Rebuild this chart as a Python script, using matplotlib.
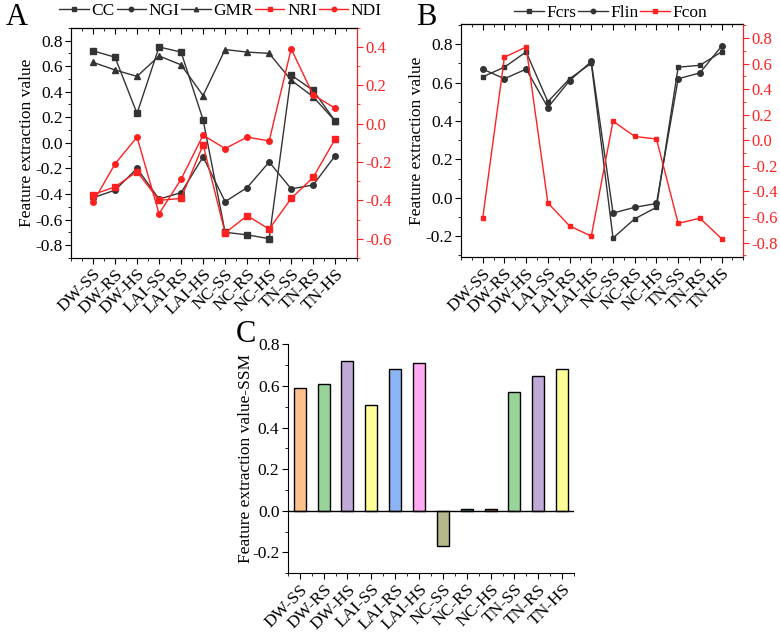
import matplotlib.pyplot as plt
import numpy as np
from matplotlib.ticker import MultipleLocator

plt.rcParams['font.family'] = ['Liberation Serif', 'DejaVu Serif']
plt.rcParams['axes.unicode_minus'] = False

# categories shared by all three panels
cats = ['DW-SS', 'DW-RS', 'DW-HS', 'LAI-SS', 'LAI-RS', 'LAI-HS',
        'NC-SS', 'NC-RS', 'NC-HS', 'TN-SS', 'TN-RS', 'TN-HS']

# Panel A, left axis
cc = [0.72, 0.67, 0.23, 0.75, 0.71, 0.18, -0.70, -0.72, -0.75, 0.53, 0.41, 0.17]
ngi = [-0.43, -0.37, -0.20, -0.44, -0.39, -0.11, -0.46, -0.35, -0.15, -0.36, -0.33, -0.10]
gmr = [0.63, 0.57, 0.52, 0.68, 0.61, 0.37, 0.73, 0.71, 0.70, 0.49, 0.36, 0.17]
# Panel A, right axis
nri = [-0.37, -0.33, -0.25, -0.40, -0.39, -0.11, -0.57, -0.48, -0.55, -0.39, -0.28, -0.08]
ndi = [-0.41, -0.21, -0.07, -0.47, -0.29, -0.06, -0.13, -0.07, -0.09, 0.39, 0.15, 0.08]

# Panel B
fcrs = [0.63, 0.68, 0.76, 0.50, 0.62, 0.70, -0.21, -0.11, -0.05, 0.68, 0.69, 0.76]
flin = [0.67, 0.62, 0.67, 0.47, 0.61, 0.71, -0.08, -0.05, -0.03, 0.62, 0.65, 0.79]
fcon = [-0.61, 0.65, 0.73, -0.49, -0.67, -0.75, 0.15, 0.03, 0.01, -0.65, -0.61, -0.77]

# Panel C
ssm = [0.59, 0.61, 0.72, 0.51, 0.68, 0.71, -0.17, 0.008, 0.008, 0.57, 0.65, 0.68]
bar_colors = ['#FFC08C', '#98D498', '#BFA9D6', '#FFFF99', '#8DB4F2', '#FFAAF2',
              '#B5B88A', '#4E8A9A', '#B06A3A', '#98D498', '#BFA9D6', '#FFFF99']

BLK = '#333333'
RED = '#FF2020'
FS = 12.5

x = np.arange(len(cats))
fig = plt.figure(figsize=(7.8, 6.32), dpi=100)


def style_line_axes(ax, ax2):
    ax.set_xlim(-1, 12)
    ax.set_xticks(x)
    ax.set_xticklabels(cats, rotation=45, ha='right', rotation_mode='anchor', fontsize=FS)
    ax.xaxis.set_minor_locator(MultipleLocator(0.5))
    ax.tick_params(axis='x', which='major', length=4, pad=2)
    ax.tick_params(axis='x', which='minor', length=2.5)
    ax.tick_params(axis='y', which='major', length=4, labelsize=FS, pad=2)
    ax.tick_params(axis='y', which='minor', length=2.5)
    ax.yaxis.set_minor_locator(MultipleLocator(0.1))
    top = ax.secondary_xaxis('top')
    top.set_xticks(x)
    top.set_xticklabels([])
    top.xaxis.set_minor_locator(MultipleLocator(0.5))
    top.tick_params(which='major', direction='in', length=4)
    top.tick_params(which='minor', direction='in', length=2.5)
    ax.set_ylabel('Feature extraction value', fontsize=FS, labelpad=0)
    ax2.spines['right'].set_color(RED)
    ax2.yaxis.set_minor_locator(MultipleLocator(0.1))
    ax2.tick_params(axis='y', which='both', colors=RED, labelsize=12, pad=1.5)
    ax2.tick_params(axis='y', which='major', length=4)
    ax2.tick_params(axis='y', which='minor', length=2.5)
    for s in ['left', 'bottom', 'top']:
        ax.spines[s].set_color(BLK)


# ---- Panel A ----
axA = fig.add_axes([0.091, 0.592, 0.367, 0.364])
axA2 = axA.twinx()
kw = dict(lw=1, ms=4)
hA = []
hA += axA.plot(x, cc, '-s', color=BLK, label='CC', **kw)
hA += axA.plot(x, ngi, '-o', color=BLK, label='NGI', **kw)
hA += axA.plot(x, gmr, '-^', color=BLK, label='GMR', **kw)
hA += axA2.plot(x, nri, '-s', color=RED, label='NRI', **kw)
hA += axA2.plot(x, ndi, '-o', color=RED, label='NDI', **kw)
axA.set_ylim(-0.9, 0.9)
axA.set_yticks(np.arange(-0.8, 0.81, 0.2))
axA2.set_ylim(-0.70, 0.50)
axA2.set_yticks(np.arange(-0.6, 0.41, 0.2))
style_line_axes(axA, axA2)
fig.legend(handles=hA, loc='center', bbox_to_anchor=(0.283, 0.982), ncol=5,
           frameon=False, fontsize=FS, handlelength=1.7, columnspacing=0.1,
           handletextpad=0.15, markerscale=0.8, borderaxespad=0, borderpad=0)
fig.text(0.008, 0.972, 'A', fontsize=22, va='center')

# ---- Panel B ----
axB = fig.add_axes([0.591, 0.593, 0.362, 0.369])
axB2 = axB.twinx()
hB = []
hB += axB.plot(x, fcrs, '-s', color=BLK, label='Fcrs', lw=1, ms=3.5)
hB += axB.plot(x, flin, '-o', color=BLK, label='Flin', lw=1, ms=4)
hB += axB2.plot(x, fcon, '-s', color=RED, label='Fcon', lw=1, ms=3.5)
axB.set_ylim(-0.31, 0.905)
axB.set_yticks(np.arange(-0.2, 0.81, 0.2))
axB2.set_ylim(-0.915, 0.91)
axB2.set_yticks(np.arange(-0.8, 0.81, 0.2))
style_line_axes(axB, axB2)
fig.legend(handles=hB, loc='center', bbox_to_anchor=(0.783, 0.98), ncol=3,
           frameon=False, fontsize=FS, handlelength=1.7, columnspacing=0.1,
           handletextpad=0.15, markerscale=0.8, borderaxespad=0, borderpad=0)
fig.text(0.533, 0.972, 'B', fontsize=22, va='center')

# ---- Panel C ----
axC = fig.add_axes([0.369, 0.093, 0.367, 0.362])
axC.bar(x, ssm, width=0.5, color=bar_colors, edgecolor='black', lw=1)
axC.axhline(0, color='black', lw=1)
axC.set_xlim(-0.5, 11.5)
axC.set_ylim(-0.3, 0.8)
axC.set_yticks(np.arange(-0.2, 0.81, 0.2))
axC.yaxis.set_minor_locator(MultipleLocator(0.1))
axC.set_xticks(x)
axC.set_xticklabels(cats, rotation=45, ha='right', rotation_mode='anchor', fontsize=FS)
axC.xaxis.set_minor_locator(MultipleLocator(0.5))
axC.tick_params(which='major', length=4, labelsize=FS, pad=2)
axC.tick_params(which='minor', length=2.5)
axC.spines['top'].set_visible(False)
axC.spines['right'].set_visible(False)
axC.set_ylabel('Feature extraction value-SSM', fontsize=FS, labelpad=-1)
fig.text(0.302, 0.47, 'C', fontsize=22, va='center')

fig.savefig('out.png', dpi=100)
